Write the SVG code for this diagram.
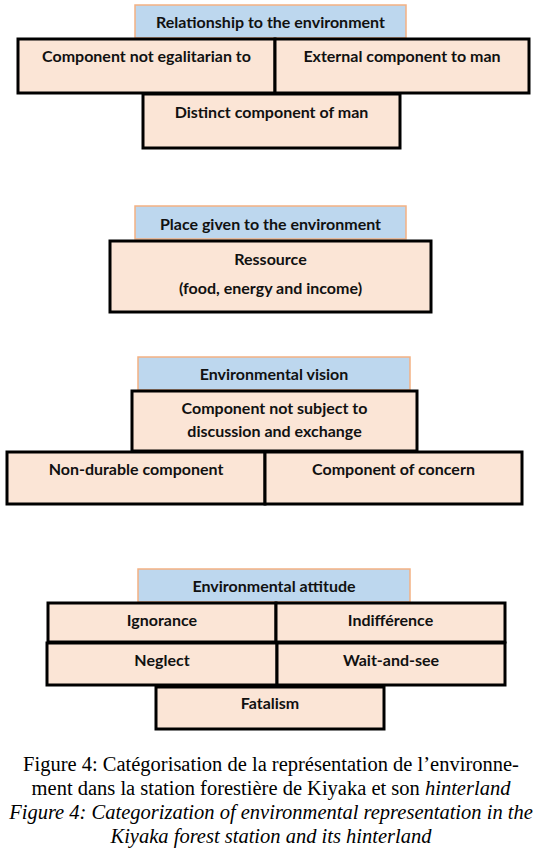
<svg xmlns="http://www.w3.org/2000/svg" width="542" height="859" viewBox="0 0 542 859">
<style>
.hd{fill:#bdd7ee;stroke:#f4b183;stroke-width:1.5}
.bx{fill:#fbe5d6;stroke:#000;stroke-width:3}
.t{font-family:Lato,"Liberation Sans",sans-serif;font-weight:bold;font-size:16px;fill:#111;text-anchor:middle}
.cap{font-family:"Liberation Serif","Times New Roman",serif;font-size:20.5px;fill:#000;text-anchor:middle}
</style>
<rect width="542" height="859" fill="#fff"/>
<!-- Section 1 -->
<g id="h1"><rect class="hd" x="135" y="5" width="271" height="33"/><text class="t" x="270.5" y="28">Relationship to the environment</text></g>
<g id="n1a"><rect class="bx" x="18" y="39" width="257" height="54"/><text class="t" x="146.5" y="62">Component not egalitarian to</text></g>
<g id="n1b"><rect class="bx" x="275" y="39" width="254" height="54"/><text class="t" x="402" y="62">External component to man</text></g>
<g id="n1c"><rect class="bx" x="143" y="94" width="257" height="54"/><text class="t" x="271.5" y="118">Distinct component of man</text></g>
<!-- Section 2 -->
<g id="h2"><rect class="hd" x="135" y="206" width="271" height="33"/><text class="t" x="270.5" y="230">Place given to the environment</text></g>
<g id="n2a"><rect class="bx" x="110" y="241" width="321" height="71"/><text class="t" x="270.5" y="265">Ressource</text><text class="t" x="270.5" y="294">(food, energy and income)</text></g>
<!-- Section 3 -->
<g id="h3"><rect class="hd" x="138" y="357" width="272" height="33"/><text class="t" x="274" y="380">Environmental vision</text></g>
<g id="n3a"><rect class="bx" x="132" y="391" width="285" height="60"/><text class="t" x="274.5" y="414">Component not subject to</text><text class="t" x="274.5" y="437">discussion and exchange</text></g>
<g id="n3b"><rect class="bx" x="7" y="452" width="258" height="52"/><text class="t" x="136" y="475">Non-durable component</text></g>
<g id="n3c"><rect class="bx" x="265" y="452" width="257" height="52"/><text class="t" x="393.5" y="475">Component of concern</text></g>
<!-- Section 4 -->
<g id="h4"><rect class="hd" x="138" y="569" width="272" height="33"/><text class="t" x="274" y="592">Environmental attitude</text></g>
<g id="n4a"><rect class="bx" x="48" y="603" width="228" height="39"/><text class="t" x="162" y="626">Ignorance</text></g>
<g id="n4b"><rect class="bx" x="276" y="603" width="229" height="39"/><text class="t" x="390.5" y="626">Indifférence</text></g>
<g id="n4c"><rect class="bx" x="47" y="643" width="230" height="42"/><text class="t" x="162" y="666">Neglect</text></g>
<g id="n4d"><rect class="bx" x="277" y="643" width="228" height="42"/><text class="t" x="391" y="666">Wait-and-see</text></g>
<g id="n4e"><rect class="bx" x="156" y="687" width="228" height="42"/><text class="t" x="270" y="709">Fatalism</text></g>
<g id="connectors"></g>
<!-- Caption -->
<text class="cap" x="271" y="771">Figure 4: Catégorisation de la représentation de l’environne-</text>
<text class="cap" x="271" y="795">ment dans la station forestière de Kiyaka et son <tspan font-style="italic">hinterland</tspan></text>
<text class="cap" x="271" y="819" font-style="italic">Figure 4: Categorization of environmental representation in the</text>
<text class="cap" x="271" y="843" font-style="italic">Kiyaka forest station and its hinterland</text>
</svg>
